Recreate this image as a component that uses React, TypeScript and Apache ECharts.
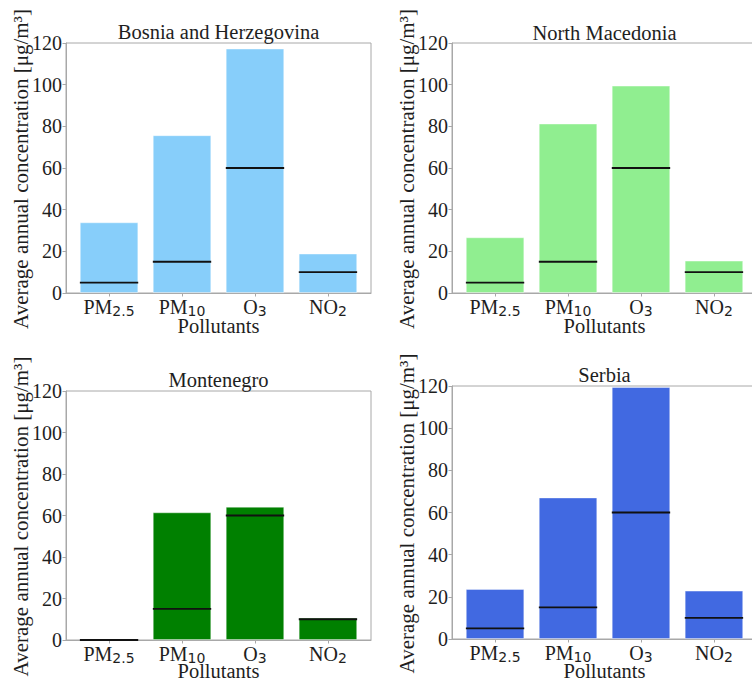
import React, { useEffect, useRef } from "react";
import * as echarts from "echarts";

const countries = ["Bosnia and Herzegovina", "North Macedonia", "Montenegro", "Serbia"];
const pollutantMain = ["PM", "PM", "O", "NO"];
const pollutantSub = ["2.5", "10", "3", "2"];
const categoryPositions = [0, 1, 2, 3];

const bihValues = [33.9, 75.7, 117.3, 18.9];
const nmkValues = [26.7, 81.3, 99.5, 15.5];
const mneValues = [0, 61.5, 64.2, 10.7];
const srbValues = [23.7, 67.1, 119.5, 22.9];

const whoLimits = [5, 15, 60, 10];
const mneLimits = [0, 15, 60, 10];

const yTicks = [0, 20, 40, 60, 80, 100, 120];

const barColors = ["#87CEFA", "#90EE90", "#008000", "#4169E1"];

const xTitle = "Pollutants";
const yTitle = "Average annual concentration [μg/m³]";

const FONT = "Liberation Serif";
const FS = 20;
const TEXT = "#1e1e1e";
const SPINE = "#a8a8a8";

const panels = [
  { name: countries[0], values: bihValues, limits: whoLimits, color: barColors[0], left: 66, top: 43, height: 250, titleY: 32, xNameY: 326 },
  { name: countries[1], values: nmkValues, limits: whoLimits, color: barColors[1], left: 452, top: 43, height: 250, titleY: 33, xNameY: 326 },
  { name: countries[2], values: mneValues, limits: mneLimits, color: barColors[2], left: 66, top: 391, height: 249, titleY: 380, xNameY: 671 },
  { name: countries[3], values: srbValues, limits: whoLimits, color: barColors[3], left: 452, top: 386, height: 253, titleY: 375, xNameY: 671 },
];

const PANEL_W = 305;
const X_MIN = -0.59;
const X_MAX = 3.59;
const BAR_W = (0.8 * PANEL_W) / (X_MAX - X_MIN);

export default function App() {
  const ref = useRef<HTMLDivElement>(null);

  useEffect(() => {
    if (!ref.current) return;
    const chart = echarts.init(ref.current, null, { renderer: "svg" });

    const grids: any[] = [];
    const xAxes: any[] = [];
    const yAxes: any[] = [];
    const series: any[] = [];
    const graphics: any[] = [];

    const textStyle = (text: string, size: number) => ({
      text,
      fontFamily: FONT,
      fontSize: size,
      fill: TEXT,
      align: "center",
      verticalAlign: "middle",
    });

    panels.forEach((p, i) => {
      grids.push({
        left: p.left,
        top: p.top,
        width: PANEL_W,
        height: p.height,
        show: true,
        borderColor: SPINE,
        borderWidth: 1,
        backgroundColor: "transparent",
        containLabel: false,
        outerBoundsMode: "none",
      });
      xAxes.push({
        gridIndex: i,
        type: "value",
        min: X_MIN,
        max: X_MAX,
        axisLine: { show: true, onZero: false, lineStyle: { color: SPINE, width: 1 } },
        axisTick: { show: true, length: 3.5, lineStyle: { color: SPINE }, customValues: categoryPositions },
        splitLine: { show: false },
        axisLabel: {
          customValues: categoryPositions,
          margin: 3,
          formatter: (v: number) => {
            const k = Math.round(v);
            return `{m|${pollutantMain[k]}}{s|${pollutantSub[k]}}`;
          },
          rich: {
            m: { fontFamily: FONT, fontSize: FS, color: TEXT },
            s: { fontFamily: "DejaVu Sans", fontSize: 14, color: TEXT, padding: [8, 0, 0, 0] },
          },
        },
      });
      yAxes.push({
        gridIndex: i,
        type: "value",
        min: 0,
        max: 120,
        interval: 20,
        axisLine: { show: true, onZero: false, lineStyle: { color: SPINE, width: 1 } },
        axisTick: { show: true, length: 3.5, lineStyle: { color: SPINE } },
        splitLine: { show: false },
        axisLabel: {
          margin: 4,
          fontFamily: FONT,
          fontSize: FS,
          color: TEXT,
          customValues: yTicks,
        },
      });
      series.push({
        type: "bar",
        xAxisIndex: i,
        yAxisIndex: i,
        barWidth: BAR_W,
        z: 2,
        data: p.values.map((v, k) => [categoryPositions[k], v]),
        itemStyle: { color: p.color, borderColor: "rgba(255,255,255,0.5)", borderWidth: 0.8 },
        silent: true,
      });
      series.push({
        type: "custom",
        xAxisIndex: i,
        yAxisIndex: i,
        z: 10,
        data: p.limits.map((v, k) => [categoryPositions[k], v]),
        encode: { x: 0, y: 1 },
        clip: false,
        renderItem: (params: any, api: any) => {
          const x = api.value(0);
          const y = api.value(1);
          const a = api.coord([x - 0.4, y]);
          const b = api.coord([x + 0.4, y]);
          return {
            type: "line",
            z2: 10,
            shape: { x1: a[0], y1: a[1], x2: b[0], y2: b[1] },
            style: { stroke: "#111111", lineWidth: 1.8, opacity: 1 },
          };
        },
        silent: true,
      });
      graphics.push({
        type: "text",
        x: p.left + PANEL_W / 2,
        y: p.titleY,
        style: textStyle(p.name, 20.5),
      });
      graphics.push({
        type: "text",
        x: p.left + PANEL_W / 2,
        y: p.xNameY,
        style: textStyle(xTitle, 20.5),
      });
      graphics.push({
        type: "text",
        x: p.left - 45,
        y: p.top + p.height / 2 + 1,
        rotation: Math.PI / 2,
        style: textStyle(yTitle, 21),
      });
    });

    chart.setOption({
      animation: false,
      backgroundColor: "#ffffff",
      textStyle: { fontFamily: FONT, color: TEXT },
      grid: grids,
      xAxis: xAxes,
      yAxis: yAxes,
      series,
      graphic: graphics,
    });

    return () => chart.dispose();
  }, []);

  return (
    <div
      ref={ref}
      style={{ position: "absolute", left: 0, top: 0, width: 752, height: 681 }}
    />
  );
}
